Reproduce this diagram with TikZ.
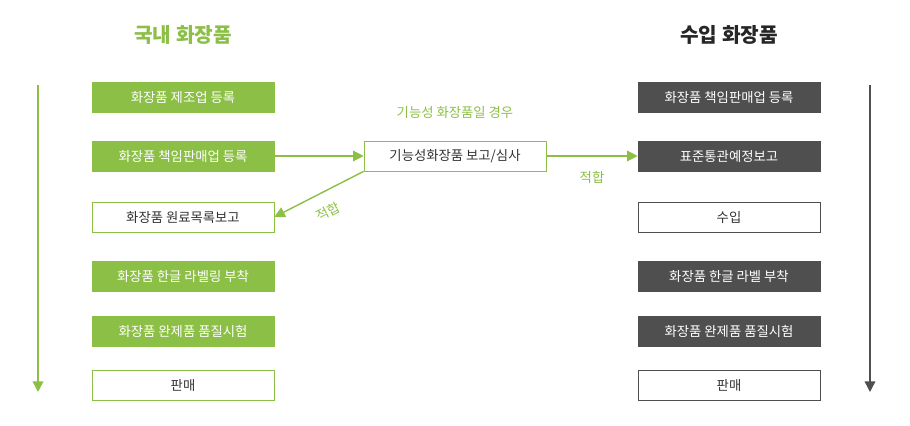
\documentclass[tikz,border=0pt]{standalone}
\usepackage{fontspec}
\setmainfont{Noto Sans CJK KR}
\usetikzlibrary{arrows.meta}
\definecolor{kgreen}{HTML}{8CBF45}
\definecolor{kgray}{HTML}{4F4F4F}
\tikzset{
  box/.style={draw, minimum width=3.64cm, minimum height=0.6cm, inner sep=0pt, font=\fontsize{7.6}{9}\selectfont},
  fillg/.style={box, draw=kgreen, fill=kgreen, text=white},
  fillk/.style={box, draw=kgray, fill=kgray, text=white},
  lineg/.style={box, draw=kgreen, fill=white, text=black!80},
  linek/.style={box, draw=kgray, fill=white, text=black!80},
  flow/.style={-{Triangle[length=6pt, width=6pt]}, line width=0.8pt}
}
\begin{document}
\begin{tikzpicture}[x=0.02cm, y=-0.02cm]
  \useasboundingbox (0,0) rectangle (910,426);

  \node (dtitle) at (183,35) [text=kgreen, font=\fontsize{11.5}{13}\selectfont\bfseries] {국내 화장품};
  \node (ititle) at (729,35) [text=black!85, font=\fontsize{11.5}{13}\selectfont\bfseries] {수입 화장품};

  \node (d1) at (183,97) [fillg] {화장품 제조업 등록};
  \node (d2) at (183,156) [fillg] {화장품 책임판매업 등록};
  \node (d3) at (183,217) [lineg] {화장품 원료목록보고};
  \node (d4) at (183,276) [fillg] {화장품 한글 라벨링 부착};
  \node (d5) at (183,331) [fillg] {화장품 완제품 품질시험};
  \node (d6) at (183,385) [lineg] {판매};

  \node (mid) at (455,156) [lineg] {기능성화장품 보고/심사};
  \node (midlabel) at (455,112) [text=kgreen, font=\fontsize{7.6}{9}\selectfont] {기능성 화장품일 경우};

  \node (i1) at (729,97) [fillk] {화장품 책임판매업 등록};
  \node (i2) at (729,156) [fillk] {표준통관예정보고};
  \node (i3) at (729,217) [linek] {수입};
  \node (i4) at (729,276) [fillk] {화장품 한글 라벨 부착};
  \node (i5) at (729,331) [fillk] {화장품 완제품 품질시험};
  \node (i6) at (729,385) [linek] {판매};

  \coordinate (dtop) at (38,85);
  \coordinate (dbot) at (38,392);
  \coordinate (itop) at (870,85);
  \coordinate (ibot) at (870,392);
  \draw[flow, kgreen] (dtop) -- (dbot);
  \draw[flow, kgray] (itop) -- (ibot);

  \draw[flow, kgreen] (d2) -- (mid);
  \draw[flow, kgreen] (mid) -- node[below=5pt, text=kgreen, font=\fontsize{7.6}{9}\selectfont] {적합} (i2);
  \draw[flow, kgreen] (mid.south west) -- node[sloped, below=4pt, text=kgreen, font=\fontsize{7.6}{9}\selectfont] {적합} (d3.east);
\end{tikzpicture}
\end{document}
